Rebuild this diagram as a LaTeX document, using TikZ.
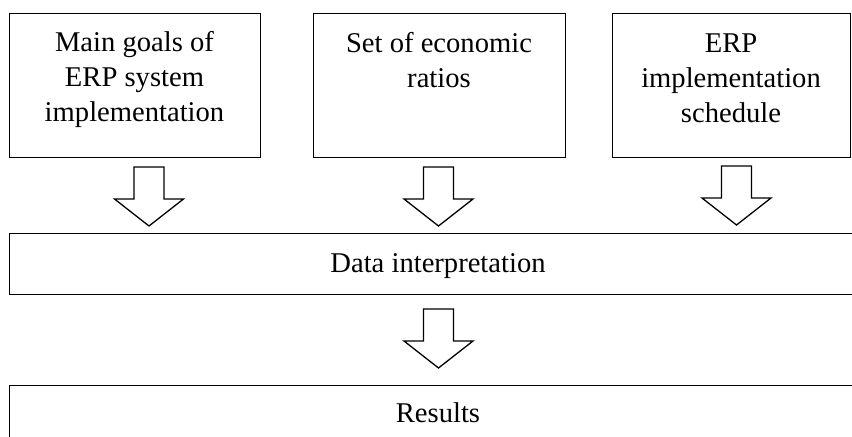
\documentclass[tikz,border=0pt]{standalone}
\usepackage{fontspec}
\setmainfont{Liberation Serif}
\usetikzlibrary{calc}
\newcommand\downblockarrow[1]{%
  \draw[blockarr] ($(#1)+(-15,0)$) -- ++(30,0) -- ++(0,32) -- ++(19.5,0)
    -- ++(-34.5,27) -- ++(-34.5,-27) -- ++(19.5,0) -- cycle;}
\begin{document}
\begin{tikzpicture}[x=0.5pt,y=-0.5pt,
  box/.style={draw=black,line width=0.65pt,inner sep=0pt,anchor=north west},
  txt/.style={font=\fontsize{14.3}{17.35}\selectfont,align=center,inner sep=0pt},
  blockarr/.style={draw=black,line width=0.65pt,fill=white,line join=miter}]
\clip (0,0) rectangle (852,437);
\fill[white] (0,0) rectangle (852,437);
% top boxes
\node[box,minimum width=125.5pt,minimum height=72.2pt] (b1) at (9,12.7) {};
\node[box,minimum width=126pt,minimum height=72.2pt] (b2) at (313,12.7) {};
\node[box,minimum width=119pt,minimum height=72.2pt] (b3) at (612,12.7) {};
\node[txt,anchor=north] (t1) at (134.5,27) {\strut Main goals of\\ERP system\\implementation};
\node[txt,anchor=north] (t2) at (439,28) {\strut Set of economic\\ratios};
\node[txt,anchor=north] (t3) at (731,28) {\strut ERP\\implementation\\schedule};
% wide boxes
\node[box,minimum width=440pt,minimum height=30.5pt] (d) at (8.5,233) {};
\node[box,minimum width=440pt,minimum height=30.5pt] (r) at (8.5,385) {};
\node[txt,anchor=base] (dt) at (438,273) {Data interpretation};
\node[txt,anchor=base] (rt) at (438,423) {Results};
% block arrows
\coordinate (a1) at (149,167);
\coordinate (a2) at (438.5,167);
\coordinate (a3) at (736.5,166);
\coordinate (a4) at (438.5,309);
\downblockarrow{a1}
\downblockarrow{a2}
\downblockarrow{a3}
\downblockarrow{a4}
\end{tikzpicture}
\end{document}
